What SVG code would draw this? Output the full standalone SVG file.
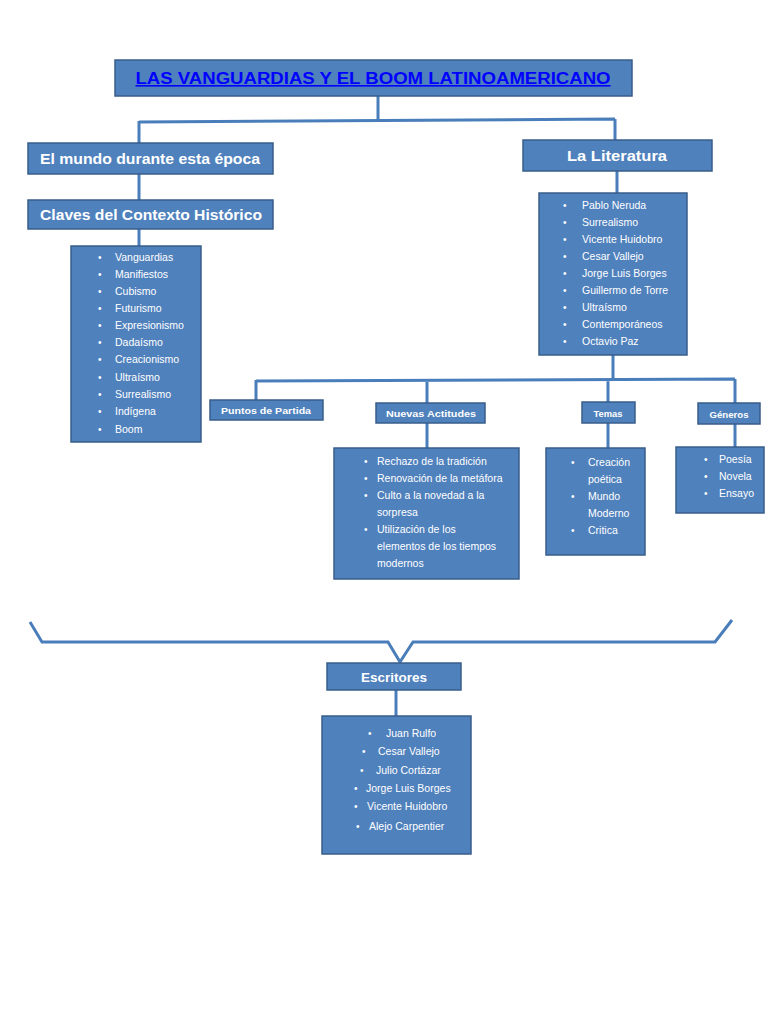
<svg xmlns="http://www.w3.org/2000/svg" width="768" height="1024" viewBox="0 0 768 1024">
<style>
.box{fill:#4F81BD;stroke:#385D8A;stroke-width:1.5}
.h{font-family:"Liberation Sans",Arial,sans-serif;font-weight:bold;fill:#fff;text-anchor:middle}
.li{font-family:"Liberation Sans",Arial,sans-serif;font-size:10.5px;fill:#fff}
.b{font-family:"Liberation Sans",Arial,sans-serif;font-size:10px;fill:#fff}
.c{fill:none;stroke:#4A7EBB;stroke-width:3}
</style>
<rect width="768" height="1024" fill="#fff"/>
<g id="connectors">
<path class="c" d="M378 96V121M139 122L615 119M139 121V143M615 119V140"/>
<path class="c" d="M139 174V200M139 229V246"/>
<path class="c" d="M617 171V193M613 355V380M256 381L735 379M256 380V400M427 380V403M608 380V402M735 379V403"/>
<path class="c" d="M427 423V448M608 423V448M735 424V447"/>
<path class="c" d="M30 622L42 642H388L400 662L413 642H715L732 620"/>
<path class="c" d="M396 690V716"/>
</g>
<g id="title">
<rect class="box" x="115" y="60" width="517" height="36"/>
<text x="373" y="84" font-family="'Liberation Sans',Arial,sans-serif" font-weight="bold" font-size="16" fill="#0000FF" text-anchor="middle" text-decoration="underline" textLength="475" lengthAdjust="spacingAndGlyphs">LAS VANGUARDIAS Y EL BOOM LATINOAMERICANO</text>
</g>
<g id="mundo">
<rect class="box" x="28" y="143" width="245" height="31"/>
<text class="h" x="150" y="164" font-size="15" textLength="220" lengthAdjust="spacingAndGlyphs">El mundo durante esta época</text>
</g>
<g id="claves">
<rect class="box" x="28" y="200" width="245" height="29"/>
<text class="h" x="151" y="220" font-size="15" textLength="222" lengthAdjust="spacingAndGlyphs">Claves del Contexto Histórico</text>
</g>
<g id="claves-list">
<rect class="box" x="71" y="246" width="130" height="196"/>
<g class="b"><text x="98" y="261">•</text><text x="98" y="278">•</text><text x="98" y="295">•</text><text x="98" y="312">•</text><text x="98" y="329">•</text><text x="98" y="346">•</text><text x="98" y="363">•</text><text x="98" y="381">•</text><text x="98" y="398">•</text><text x="98" y="415">•</text><text x="98" y="433">•</text></g>
<g class="li"><text x="115" y="261">Vanguardias</text><text x="115" y="278">Manifiestos</text><text x="115" y="295">Cubismo</text><text x="115" y="312">Futurismo</text><text x="115" y="329">Expresionismo</text><text x="115" y="346">Dadaísmo</text><text x="115" y="363">Creacionismo</text><text x="115" y="381">Ultraísmo</text><text x="115" y="398">Surrealismo</text><text x="115" y="415">Indígena</text><text x="115" y="433">Boom</text></g>
</g>
<g id="literatura">
<rect class="box" x="523" y="140" width="189" height="31"/>
<text class="h" x="617" y="161" font-size="15" textLength="100" lengthAdjust="spacingAndGlyphs">La Literatura</text>
</g>
<g id="literatura-list">
<rect class="box" x="539" y="193" width="148" height="162"/>
<g class="b"><text x="563" y="209">•</text><text x="563" y="226">•</text><text x="563" y="243">•</text><text x="563" y="260">•</text><text x="563" y="277">•</text><text x="563" y="294">•</text><text x="563" y="311">•</text><text x="563" y="328">•</text><text x="563" y="345">•</text></g>
<g class="li"><text x="582" y="209">Pablo Neruda</text><text x="582" y="226">Surrealismo</text><text x="582" y="243">Vicente Huidobro</text><text x="582" y="260">Cesar Vallejo</text><text x="582" y="277">Jorge Luis Borges</text><text x="582" y="294">Guillermo de Torre</text><text x="582" y="311">Ultraísmo</text><text x="582" y="328">Contemporáneos</text><text x="582" y="345">Octavio Paz</text></g>
</g>
<g id="puntos">
<rect class="box" x="210" y="400" width="113" height="20"/>
<text class="h" x="266" y="414" font-size="9" textLength="90" lengthAdjust="spacingAndGlyphs">Puntos de Partida</text>
</g>
<g id="nuevas">
<rect class="box" x="376" y="403" width="109" height="20"/>
<text class="h" x="431" y="417" font-size="9" textLength="90" lengthAdjust="spacingAndGlyphs">Nuevas Actitudes</text>
</g>
<g id="nuevas-list">
<rect class="box" x="334" y="448" width="185" height="131"/>
<g class="b"><text x="364" y="465">•</text><text x="364" y="482">•</text><text x="364" y="499">•</text><text x="364" y="533">•</text></g>
<g class="li"><text x="377" y="465">Rechazo de la tradición</text><text x="377" y="482">Renovación de la metáfora</text><text x="377" y="499">Culto a la novedad a la</text><text x="377" y="516">sorpresa</text><text x="377" y="533">Utilización de los</text><text x="377" y="550">elementos de los tiempos</text><text x="377" y="567">modernos</text></g>
</g>
<g id="temas">
<rect class="box" x="582" y="402" width="53" height="21"/>
<text class="h" x="608" y="417" font-size="9.5" textLength="29" lengthAdjust="spacingAndGlyphs">Temas</text>
</g>
<g id="temas-list">
<rect class="box" x="546" y="448" width="99" height="107"/>
<g class="b"><text x="571" y="466">•</text><text x="571" y="500">•</text><text x="571" y="534">•</text></g>
<g class="li"><text x="588" y="466">Creación</text><text x="588" y="483">poética</text><text x="588" y="500">Mundo</text><text x="588" y="517">Moderno</text><text x="588" y="534">Critica</text></g>
</g>
<g id="generos">
<rect class="box" x="698" y="403" width="62" height="21"/>
<text class="h" x="729" y="418" font-size="9.5" textLength="39" lengthAdjust="spacingAndGlyphs">Géneros</text>
</g>
<g id="generos-list">
<rect class="box" x="676" y="447" width="88" height="66"/>
<g class="b"><text x="704" y="463">•</text><text x="704" y="480">•</text><text x="704" y="497">•</text></g>
<g class="li"><text x="719" y="463">Poesía</text><text x="719" y="480">Novela</text><text x="719" y="497">Ensayo</text></g>
</g>
<g id="escritores">
<rect class="box" x="327" y="663" width="134" height="27"/>
<text class="h" x="394" y="682" font-size="12.5" textLength="66" lengthAdjust="spacingAndGlyphs">Escritores</text>
</g>
<g id="escritores-list">
<rect class="box" x="322" y="716" width="149" height="138"/>
<g class="b"><text x="368" y="737">•</text><text x="362" y="755">•</text><text x="360" y="774">•</text><text x="354" y="792">•</text><text x="354" y="810">•</text><text x="356" y="830">•</text></g>
<g class="li"><text x="386" y="737">Juan Rulfo</text><text x="378" y="755">Cesar Vallejo</text><text x="376" y="774">Julio Cortázar</text><text x="366" y="792">Jorge Luis Borges</text><text x="367" y="810">Vicente Huidobro</text><text x="369" y="830">Alejo Carpentier</text></g>
</g>
</svg>
